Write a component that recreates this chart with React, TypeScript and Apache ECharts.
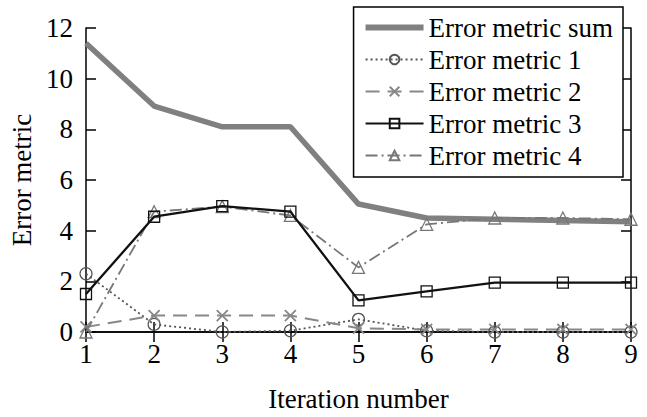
import React, { useEffect, useRef } from "react";
import * as echarts from "echarts";

const iterations = [1, 2, 3, 4, 5, 6, 7, 8, 9];
const seriesNames = ["Error metric sum", "Error metric 1", "Error metric 2", "Error metric 3", "Error metric 4"];
const sumValues = [11.4, 8.92, 8.1, 8.1, 5.05, 4.5, 4.45, 4.4, 4.35];
const metric1 = [2.3, 0.3, 0.0, 0.05, 0.5, 0.05, 0.0, 0.0, 0.0];
const metric2 = [0.2, 0.65, 0.65, 0.65, 0.15, 0.1, 0.1, 0.1, 0.1];
const metric3 = [1.5, 4.55, 4.97, 4.75, 1.25, 1.6, 1.95, 1.95, 1.95];
const metric4 = [0.0, 4.75, 4.95, 4.6, 2.55, 4.25, 4.5, 4.5, 4.45];
const yTicks = [0, 2, 4, 6, 8, 10, 12];

const FONT = "Liberation Serif";
const FS = 27;
const crossPath = "path://M0,0L10,10M10,0L0,10";
const barIcon = "path://M0,0L58,0L58,6L0,6Z";

function pairs(vals: number[]) {
  return iterations.map((x, i) => [x, vals[i]]);
}

export default function App() {
  const ref = useRef<HTMLDivElement>(null);
  useEffect(() => {
    if (!ref.current) return;
    const chart = echarts.init(ref.current, null, { renderer: "svg" });
    const axisCommon = {
      axisLine: { show: true, lineStyle: { color: "#000", width: 1.5 } },
      axisTick: { show: true, inside: true, length: 10, lineStyle: { color: "#000", width: 1.5 } },
      splitLine: { show: false },
    };
    const hollow = (c: string, w: number) => ({ color: "rgba(0,0,0,0)", borderColor: c, borderWidth: w });
    chart.setOption({
      animation: false,
      grid: { left: 86, right: 16, top: 28, bottom: 84 },
      xAxis: [
        {
          type: "value", min: 1, max: 9, interval: 1, position: "bottom",
          name: "Iteration number", nameLocation: "middle", nameGap: 53,
          nameTextStyle: { fontFamily: FONT, fontSize: FS, color: "#000" },
          axisLabel: { fontFamily: FONT, fontSize: FS, color: "#000", margin: 8 },
          ...axisCommon,
        },
        {
          type: "value", min: 1, max: 9, interval: 1, position: "top",
          axisLabel: { show: false },
          ...axisCommon,
        },
      ],
      yAxis: [
        {
          type: "value", min: 0, max: 12, interval: 2, position: "left",
          name: "Error metric", nameLocation: "middle", nameGap: 49,
          nameTextStyle: { fontFamily: FONT, fontSize: FS, color: "#000" },
          axisLabel: { fontFamily: FONT, fontSize: FS, color: "#000", margin: 13,
            formatter: (v: number) => (yTicks.includes(v) ? String(v) : "") },
          ...axisCommon,
        },
        {
          type: "value", min: 0, max: 12, interval: 2, position: "right",
          axisLabel: { show: false },
          ...axisCommon,
        },
      ],
      legend: {
        orient: "vertical",
        right: 24,
        top: 7,
        itemWidth: 58,
        itemHeight: 12,
        itemGap: 5,
        padding: [7, 10, 8, 11],
        backgroundColor: "#fff",
        borderColor: "#000",
        borderWidth: 1.5,
        textStyle: { fontFamily: FONT, fontSize: FS, color: "#000" },
        data: [
          { name: seriesNames[0], icon: barIcon },
          seriesNames[1], seriesNames[2], seriesNames[3], seriesNames[4],
        ],
      },
      series: [
        {
          name: seriesNames[0], type: "line", data: pairs(sumValues), symbol: "none",
          lineStyle: { color: "#808080", width: 5.5 }, itemStyle: { color: "#808080" }, z: 2,
        },
        {
          name: seriesNames[1], type: "line", data: pairs(metric1), symbol: "circle", symbolSize: 12,
          lineStyle: { color: "#555", width: 1.8, type: [2, 3] }, itemStyle: hollow("#555", 1.2), z: 3,
        },
        {
          name: seriesNames[2], type: "line", data: pairs(metric2), symbol: crossPath, symbolSize: 11,
          lineStyle: { color: "#888", width: 2, type: [14, 8] }, itemStyle: hollow("#888", 1.8), z: 3,
        },
        {
          name: seriesNames[3], type: "line", data: pairs(metric3), symbol: "rect", symbolSize: 11,
          lineStyle: { color: "#111", width: 2.3 }, itemStyle: hollow("#111", 1.3), z: 4,
        },
        {
          name: seriesNames[4], type: "line", data: pairs(metric4), symbol: "triangle", symbolSize: 12,
          lineStyle: { color: "#777", width: 1.8, type: [12, 4, 2, 4] }, itemStyle: hollow("#777", 1.3), z: 3,
        },
      ],
    });
    return () => chart.dispose();
  }, []);
  return <div ref={ref} style={{ width: 647, height: 417, position: "absolute", left: 0, top: 0 }} />;
}
